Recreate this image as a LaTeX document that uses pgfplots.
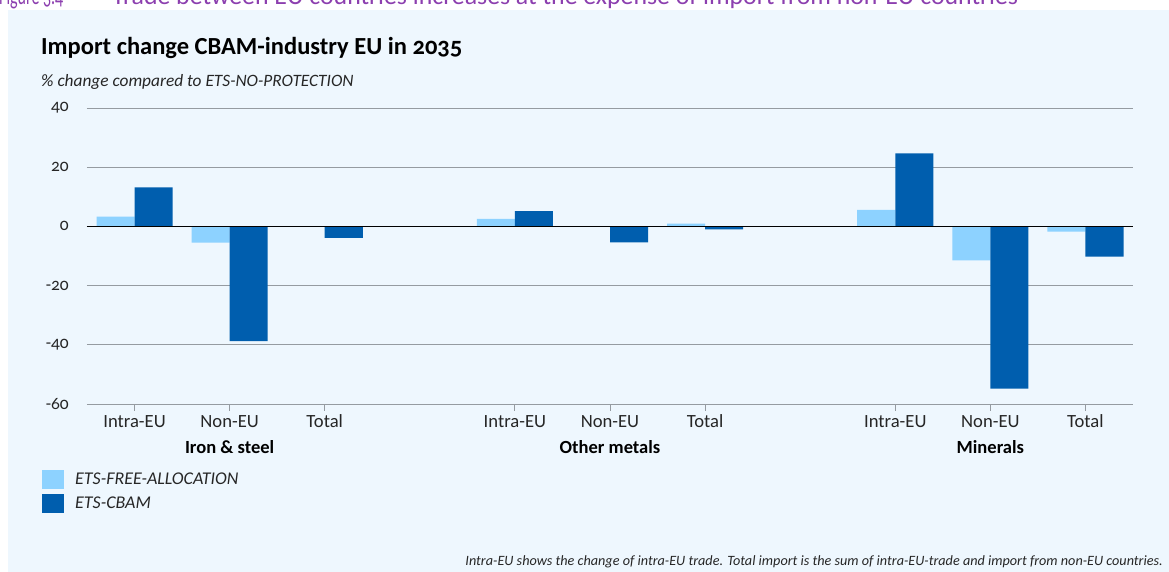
\documentclass[border=0pt]{standalone}
\usepackage{graphicx}
\usepackage{pgfplots}
\pgfplotsset{compat=1.18}
\usepackage{fontspec}
\setmainfont{Carlito}[Numbers=OldStyle]
\definecolor{bg}{HTML}{EEF7FE}
\definecolor{lightbar}{HTML}{8DD2FF}
\definecolor{darkbar}{HTML}{005EAE}
\definecolor{purp}{HTML}{8C3FAF}
\definecolor{gridc}{HTML}{959BA1}
\pgfdeclarelayer{background}
\pgfsetlayers{background,main}
\pgfplotsset{sqlegend/.style={legend image code/.code={\fill[##1] (0bp,-9.5bp) rectangle (22bp,9.5bp);}}}
\begin{document}
\begin{tikzpicture}[x=1bp,y=1bp]
\begin{axis}[
  scale only axis, width=1046bp, height=296bp,
  xmin=-0.5, xmax=10.5, ymin=-60, ymax=40,
  ytick={-60,-40,-20,0,20,40},
  yticklabel={\pgfmathprintnumber[assume math mode=true]{\tick}},
  xtick={0,1,2,4,5,6,8,9,10},
  xticklabels={Intra-EU,Non-EU,Total,Intra-EU,Non-EU,Total,Intra-EU,Non-EU,Total},
  axis line style={draw=none},
  ymajorgrids, major grid style={gridc, line width=0.9bp},
  tick align=outside, major tick length=7bp,
  xtick pos=bottom, ytick pos=left,
  xtick style={draw=gridc, line width=0.9bp},
  ytick style={draw=none},
  ticklabel style={text=black!85},
  yticklabel style={font=\fontsize{17.5}{20}\selectfont, anchor=east, inner sep=0pt, xshift=-11bp},
  xticklabel style={font=\fontsize{18.7}{22}\selectfont, anchor=base, inner sep=0pt, yshift=-17bp},
  ybar, bar width=0.4,
  legend style={at={(-0.043,-0.223)}, anchor=north west, draw=none, fill=none,
    font=\itshape\fontsize{18}{21}\selectfont, text=black!85, row sep=5bp, inner sep=0pt,
    legend cell align=left},
  clip=false,
]
\addplot[fill=lightbar, draw=none, bar shift=-0.2, sqlegend]
  coordinates {(0,3.3) (1,-5.5) (2,0) (4,2.5) (5,0) (6,0.9) (8,5.6) (9,-11.5) (10,-1.8)};
\addlegendentry{\hspace*{9bp}ETS-FREE-ALLOCATION}
\addplot[fill=darkbar, draw=none, bar shift=0.2, sqlegend]
  coordinates {(0,13.2) (1,-38.8) (2,-3.9) (4,5.2) (5,-5.4) (6,-1.0) (8,24.7) (9,-54.8) (10,-10.2)};
\addlegendentry{\hspace*{9bp}ETS-CBAM}
\draw[black, line width=1.6bp] (axis cs:-0.5,0) -- (axis cs:10.5,0);
\node[anchor=base, font=\bfseries\fontsize{18.6}{22}\selectfont, inner sep=0pt] at ([yshift=-50bp]axis cs:1,-60) {Iron \& steel};
\node[anchor=base, font=\bfseries\fontsize{18.6}{22}\selectfont, inner sep=0pt] at ([yshift=-50bp]axis cs:5,-60) {Other metals};
\node[anchor=base, font=\bfseries\fontsize{18.6}{22}\selectfont, inner sep=0pt] at ([yshift=-50bp]axis cs:9,-60) {Minerals};
\coordinate (SW) at (rel axis cs:0,0);
\end{axis}
\path (SW) ++(-87,-168) coordinate (O);
\begin{pgfonlayer}{background}
\begin{scope}[shift={(O)}]
\clip (0,0) rectangle (1169,572);
\fill[white] (0,0) rectangle (1169,572);
\node[anchor=base west, inner sep=0pt, text=purp, font=\fontsize{25.9}{30}\selectfont] at (-1,567) {\scalebox{0.62}[1]{Figure 3.4}};
\node[anchor=base west, inner sep=0pt, text=purp, font=\fontsize{25.9}{30}\selectfont] at (112,567) {Trade between EU countries increases at the expense of import from non-EU countries};
\fill[bg] (8,0) rectangle (1169,562);
\end{scope}
\end{pgfonlayer}
\begin{scope}[shift={(O)}]
\node[anchor=base west, inner sep=0pt, font=\bfseries\fontsize{24.6}{29}\selectfont] at (41,517) {Import change CBAM-industry EU in 2035};
\node[anchor=base west, inner sep=0pt, font=\itshape\fontsize{17.4}{20}\selectfont, text=black!85] at (41,485) {\% change compared to ETS-NO-PROTECTION};
\node[anchor=base east, inner sep=0pt, font=\itshape\fontsize{14.25}{17}\selectfont, text=black!85] at (1163,6) {Intra-EU shows the change of intra-EU trade. Total import is the sum of intra-EU-trade and import from non-EU countries.};
\end{scope}
\pgfresetboundingbox
\useasboundingbox (O) rectangle ++(1169,572);
\end{tikzpicture}
\end{document}
